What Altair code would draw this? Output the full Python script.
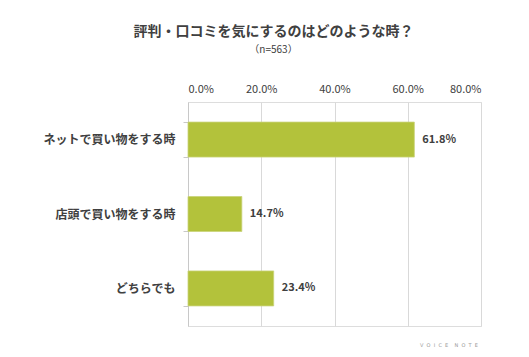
import altair as alt
import pandas as pd

categories = ["ネットで買い物をする時", "店頭で買い物をする時", "どちらでも"]
values = [0.618, 0.147, 0.234]
x_ticks = [0, 0.2, 0.4, 0.6, 0.8]

df = pd.DataFrame({"cat": categories, "val": values})
FONT = "Noto Sans CJK JP"

base = alt.Chart(df)

bars = base.mark_bar(color="#b3c23b", stroke="#c9d37a", strokeWidth=0.8).encode(
    x=alt.X("val:Q",
            scale=alt.Scale(domain=[0, 0.8], nice=False),
            axis=alt.Axis(orient="top", format=".1%", values=x_ticks, title=None,
                          grid=True, gridColor="#d9d9d9", domain=False, ticks=False,
                          labelFont=FONT, labelFontSize=11, labelColor="#404040",
                          labelPadding=8)),
    y=alt.Y("cat:N", sort=categories,
            scale=alt.Scale(paddingInner=0.53, paddingOuter=0.27),
            axis=alt.Axis(title=None, tickBand="extent", tickSize=5, tickColor="#c8c8c8",
                          domainColor="#c8c8c8", labelFont=FONT, labelFontSize=12,
                          labelFontWeight="bold", labelColor="#404040", labelPadding=8)),
)

labels = base.mark_text(align="left", baseline="middle", dx=8, font=FONT,
                        fontSize=11, fontWeight="bold", color="#404040").encode(
    x="val:Q",
    y=alt.Y("cat:N", sort=categories),
    text=alt.Text("val:Q", format=".1%"),
)

logo_text = "\u00a0\u00a0".join(list("VOICE")) + "\u00a0\u00a0\u00a0\u00a0" + "\u00a0\u00a0".join(list("NOTE"))
logo = alt.Chart(pd.DataFrame({"t": [logo_text]})).mark_text(
    font="DejaVu Sans", fontSize=5, color="#999999", align="center"
).encode(x=alt.value(261), y=alt.value(243), text="t:N")

chart = alt.layer(bars, labels, logo).properties(
    width=293, height=224,
    padding={"left": 188, "top": 102, "right": 48, "bottom": 31},
    autosize=alt.AutoSizeParams(type="none"),
    title=alt.TitleParams(
        text="評判・口コミを気にするのはどのような時？",
        subtitle="（n=563）",
        font=FONT, fontSize=14, fontWeight="bold", color="#404040",
        subtitleFont=FONT, subtitleFontSize=10, subtitleColor="#404040",
        subtitlePadding=6,
        anchor="middle", frame="group", dx=-61, offset=28,
    ),
).configure_view(stroke=None).configure(background="white")

chart.save("out.html", embed_options={"renderer": "svg", "actions": False})
